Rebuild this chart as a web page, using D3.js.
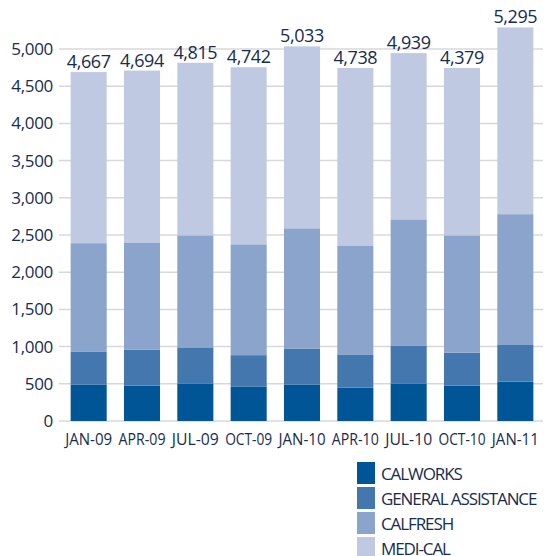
<!DOCTYPE html>
<html>
<head>
<meta charset="utf-8">
<script src="https://cdn.jsdelivr.net/npm/d3@7"></script>
<style>
  body { margin: 0; background: #fff; }
  text { font-family: "Open Sans", sans-serif; fill: #172c4f; }
</style>
</head>
<body>
<div class="graph"></div>
<script>
// data
const quarters = ['JAN-09', 'APR-09', 'JUL-09', 'OCT-09', 'JAN-10', 'APR-10', 'JUL-10', 'OCT-10', 'JAN-11'];
const calworks = [490, 475, 505, 465, 490, 450, 505, 475, 530];
const general_assistance = [445, 485, 485, 420, 485, 445, 510, 445, 500];
const calfresh = [1455, 1440, 1505, 1490, 1615, 1465, 1695, 1575, 1750];
const medical = [2300, 2310, 2320, 2380, 2445, 2385, 2235, 2250, 2510];
const total_labels = ['4,667', '4,694', '4,815', '4,742', '5,033', '4,738', '4,939', '4,379', '5,295'];
const series_names = ['CALWORKS', 'GENERAL ASSISTANCE', 'CALFRESH', 'MEDI-CAL'];
const y_ticks = [0, 500, 1000, 1500, 2000, 2500, 3000, 3500, 4000, 4500, 5000];

const colors = ['#005596', '#4477ad', '#8aa4cb', '#bfcae2'];

const svg_dimensions = { width: 546, height: 556, left: 62, right: 542, top: 49, bottom: 421 };

let rows = quarters.map((q, i) => ({
    quarter: q,
    CALWORKS: calworks[i],
    'GENERAL ASSISTANCE': general_assistance[i],
    CALFRESH: calfresh[i],
    'MEDI-CAL': medical[i]
}));

let stacked = d3.stack().keys(series_names)(rows);

let xScale = d3.scaleBand()
    .domain(quarters)
    .range([svg_dimensions.left, svg_dimensions.right])
    .paddingInner(0.324)
    .paddingOuter(0.162);

let yScale = d3.scaleLinear()
    .domain([0, 5000])
    .range([svg_dimensions.bottom, svg_dimensions.top]);

let svg = d3.select('.graph').append('svg')
    .attr('width', svg_dimensions.width)
    .attr('height', svg_dimensions.height);

// gridlines
svg.append('g').selectAll('line')
    .data(y_ticks).enter().append('line')
    .attr('x1', 59).attr('x2', 543)
    .attr('y1', d => yScale(d)).attr('y2', d => yScale(d))
    .attr('stroke', '#d8d8d8')
    .attr('stroke-width', 1.5);

// y labels
svg.append('g').selectAll('text')
    .data(y_ticks).enter().append('text')
    .attr('x', 53)
    .attr('y', d => yScale(d) + 6)
    .attr('text-anchor', 'end')
    .style('font-size', '17px')
    .style('letter-spacing', '-0.3px')
    .text(d => d3.format(',')(d));

// bars
svg.append('g').selectAll('g')
    .data(stacked).enter().append('g')
    .attr('fill', (d, i) => colors[i])
    .selectAll('rect')
    .data(d => d).enter().append('rect')
    .attr('x', d => xScale(d.data.quarter))
    .attr('y', d => yScale(d[1]))
    .attr('width', xScale.bandwidth())
    .attr('height', d => yScale(d[0]) - yScale(d[1]));

// total labels
let top_layer = stacked[stacked.length - 1];
svg.append('g').selectAll('text')
    .data(top_layer).enter().append('text')
    .attr('x', d => xScale(d.data.quarter) + xScale.bandwidth() / 2)
    .attr('y', d => yScale(d[1]) - 4)
    .attr('text-anchor', 'middle')
    .style('font-size', '18px')
    .style('letter-spacing', '-0.4px')
    .text((d, i) => total_labels[i]);

// x labels
svg.append('g').selectAll('text')
    .data(quarters).enter().append('text')
    .attr('x', d => xScale(d) + xScale.bandwidth() / 2)
    .attr('y', 445)
    .attr('text-anchor', 'middle')
    .style('font-size', '17px')
    .attr('textLength', 47)
    .attr('lengthAdjust', 'spacingAndGlyphs')
    .text(d => d);

// legend
let legend = svg.append('g').attr('transform', 'translate(357, 462)');
let legend_items = legend.selectAll('g')
    .data(series_names).enter().append('g')
    .attr('transform', (d, i) => 'translate(0,' + (i * 25) + ')');
legend_items.append('rect')
    .attr('width', 18).attr('height', 22)
    .attr('fill', (d, i) => colors[i]);
legend_items.append('text')
    .attr('x', 24)
    .attr('y', 17.5)
    .style('font-size', '17px')
    .style('letter-spacing', '-1.1px')
    .text(d => d);
</script>
</body>
</html>
